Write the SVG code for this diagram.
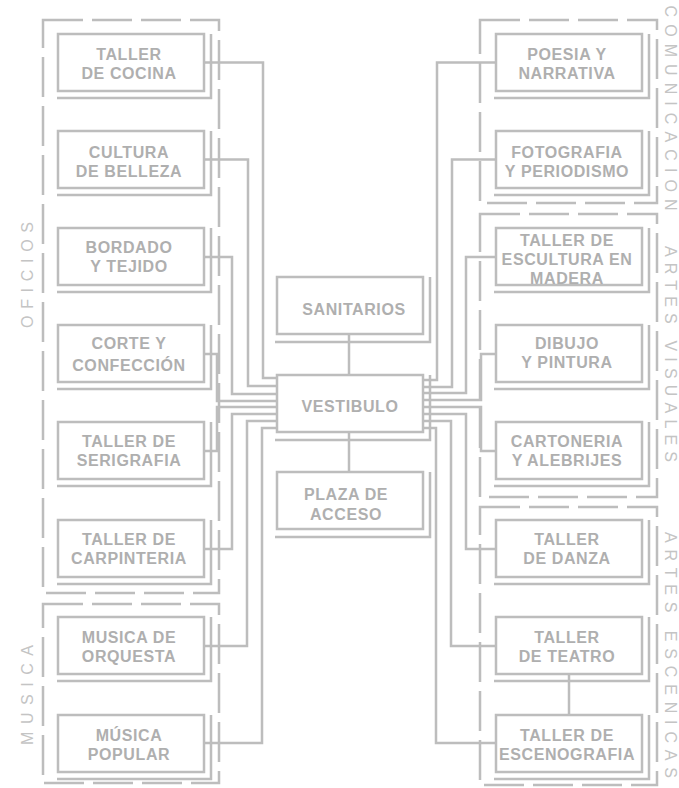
<svg xmlns="http://www.w3.org/2000/svg" width="679" height="788" viewBox="0 0 679 788">
<style>
.bg{fill:#ffffff}
.box{fill:none;stroke:#bdbdbd;stroke-width:2.5}
.sh{fill:none;stroke:#bdbdbd;stroke-width:2.5}
.grp{fill:none;stroke:#bdbdbd;stroke-width:2.5;stroke-dasharray:40 9}
.con{fill:none;stroke:#bdbdbd;stroke-width:2.5}
.t{font-family:"Liberation Sans",Arial,sans-serif;font-size:16px;font-weight:bold;fill:#afafaf;text-anchor:middle;letter-spacing:0.6px}
.lbl{font-family:"Liberation Sans",Arial,sans-serif;font-size:16px;fill:#c4c4c4;text-anchor:middle}
</style>
<rect class="bg" x="0" y="0" width="679" height="788"/>

<g id="groups">
<rect class="grp" x="43" y="20" width="176" height="573"/>
<rect class="grp" x="43" y="604" width="176" height="179"/>
<rect class="grp" x="480" y="20" width="177" height="183"/>
<rect class="grp" x="480" y="214" width="177" height="283"/>
<rect class="grp" x="480" y="507" width="177" height="278"/>
<text class="lbl" transform="translate(33,275) rotate(-90)" textLength="106" lengthAdjust="spacing">OFICIOS</text>
<text class="lbl" transform="translate(33,695) rotate(-90)" textLength="100" lengthAdjust="spacing">MUSICA</text>
<text class="lbl" transform="translate(665,108) rotate(90)" textLength="205" lengthAdjust="spacing">COMUNICACION</text>
<text class="lbl" transform="translate(665,354) rotate(90)" textLength="216" lengthAdjust="spacing">ARTES VISUALES</text>
<text class="lbl" transform="translate(665,655) rotate(90)" textLength="246" lengthAdjust="spacing">ARTES ESCENICAS</text>
</g>

<g id="connectors">
<path class="con" d="M204 62.5H263V378H277"/>
<path class="con" d="M204 159.5H248V386H277"/>
<path class="con" d="M204 257H232V394H277"/>
<path class="con" d="M204 354H217V401H277"/>
<path class="con" d="M204 451H217V407H277"/>
<path class="con" d="M204 549H232V414H277"/>
<path class="con" d="M204 646H247V421H277"/>
<path class="con" d="M204 743H262V428H277"/>
<path class="con" d="M496 62.5H437V380H423"/>
<path class="con" d="M496 159.5H452V387H423"/>
<path class="con" d="M496 257H466V393H423"/>
<path class="con" d="M496 354H481V400H423"/>
<path class="con" d="M496 451H481V407H423"/>
<path class="con" d="M496 549H466V414H423"/>
<path class="con" d="M496 646H451V421H423"/>
<path class="con" d="M496 743H436V428H423"/>
<path class="con" d="M349 334V375"/>
<path class="con" d="M349 432V472"/>
<path class="con" d="M569 674V715"/>
</g>

<g id="n-cocina"><path class="sh" d="M211 34V98H57"/><rect class="box" x="58" y="34" width="146" height="57"/><text class="t" x="129" y="60">TALLER</text><text class="t" x="129" y="79">DE COCINA</text></g>
<g id="n-belleza"><path class="sh" d="M211 131V195H57"/><rect class="box" x="58" y="131" width="146" height="57"/><text class="t" x="129" y="158">CULTURA</text><text class="t" x="129" y="177">DE BELLEZA</text></g>
<g id="n-bordado"><path class="sh" d="M211 228V292H57"/><rect class="box" x="58" y="228" width="146" height="57"/><text class="t" x="129" y="253">BORDADO</text><text class="t" x="129" y="272">Y TEJIDO</text></g>
<g id="n-corte"><path class="sh" d="M211 325V389H57"/><rect class="box" x="58" y="325" width="146" height="57"/><text class="t" x="129" y="349">CORTE Y</text><text class="t" x="129" y="371">CONFECCIÓN</text></g>
<g id="n-serigrafia"><path class="sh" d="M211 422V486H57"/><rect class="box" x="58" y="422" width="146" height="57"/><text class="t" x="129" y="447">TALLER DE</text><text class="t" x="129" y="466">SERIGRAFIA</text></g>
<g id="n-carpinteria"><path class="sh" d="M211 520V584H57"/><rect class="box" x="58" y="520" width="146" height="57"/><text class="t" x="129" y="545">TALLER DE</text><text class="t" x="129" y="564">CARPINTERIA</text></g>
<g id="n-orquesta"><path class="sh" d="M211 617V681H57"/><rect class="box" x="58" y="617" width="146" height="57"/><text class="t" x="129" y="643">MUSICA DE</text><text class="t" x="129" y="662">ORQUESTA</text></g>
<g id="n-popular"><path class="sh" d="M211 715V779H57"/><rect class="box" x="58" y="715" width="146" height="57"/><text class="t" x="129" y="741">MÚSICA</text><text class="t" x="129" y="760">POPULAR</text></g>

<g id="n-sanitarios"><path class="sh" d="M430 277V342H275"/><rect class="box" x="277" y="277" width="146" height="57"/><text class="t" x="354" y="315">SANITARIOS</text></g>
<g id="n-vestibulo"><path class="sh" d="M430 375V440H275"/><rect class="box" x="277" y="375" width="146" height="57"/><text class="t" x="350" y="412">VESTIBULO</text></g>
<g id="n-plaza"><path class="sh" d="M430 472V537H275"/><rect class="box" x="277" y="472" width="146" height="57"/><text class="t" x="346" y="500">PLAZA DE</text><text class="t" x="346" y="520">ACCESO</text></g>

<g id="n-poesia"><path class="sh" d="M649 34V98H494"/><rect class="box" x="496" y="34" width="146" height="57"/><text class="t" x="567" y="60">POESIA Y</text><text class="t" x="567" y="79">NARRATIVA</text></g>
<g id="n-fotografia"><path class="sh" d="M649 131V195H494"/><rect class="box" x="496" y="131" width="146" height="57"/><text class="t" x="567" y="158">FOTOGRAFIA</text><text class="t" x="567" y="177">Y PERIODISMO</text></g>
<g id="n-escultura"><path class="sh" d="M649 228V292H494"/><rect class="box" x="496" y="228" width="146" height="57"/><text class="t" x="567" y="246">TALLER DE</text><text class="t" x="567" y="265">ESCULTURA EN</text><text class="t" x="567" y="284">MADERA</text></g>
<g id="n-dibujo"><path class="sh" d="M649 325V389H494"/><rect class="box" x="496" y="325" width="146" height="57"/><text class="t" x="567" y="349">DIBUJO</text><text class="t" x="567" y="368">Y PINTURA</text></g>
<g id="n-cartoneria"><path class="sh" d="M649 422V486H494"/><rect class="box" x="496" y="422" width="146" height="57"/><text class="t" x="567" y="447">CARTONERIA</text><text class="t" x="567" y="466">Y ALEBRIJES</text></g>
<g id="n-danza"><path class="sh" d="M649 520V584H494"/><rect class="box" x="496" y="520" width="146" height="57"/><text class="t" x="567" y="545">TALLER</text><text class="t" x="567" y="564">DE DANZA</text></g>
<g id="n-teatro"><path class="sh" d="M649 617V681H494"/><rect class="box" x="496" y="617" width="146" height="57"/><text class="t" x="567" y="643">TALLER</text><text class="t" x="567" y="662">DE TEATRO</text></g>
<g id="n-escenografia"><path class="sh" d="M649 715V779H494"/><rect class="box" x="496" y="715" width="146" height="57"/><text class="t" x="567" y="741">TALLER DE</text><text class="t" x="567" y="760">ESCENOGRAFIA</text></g>
</svg>
